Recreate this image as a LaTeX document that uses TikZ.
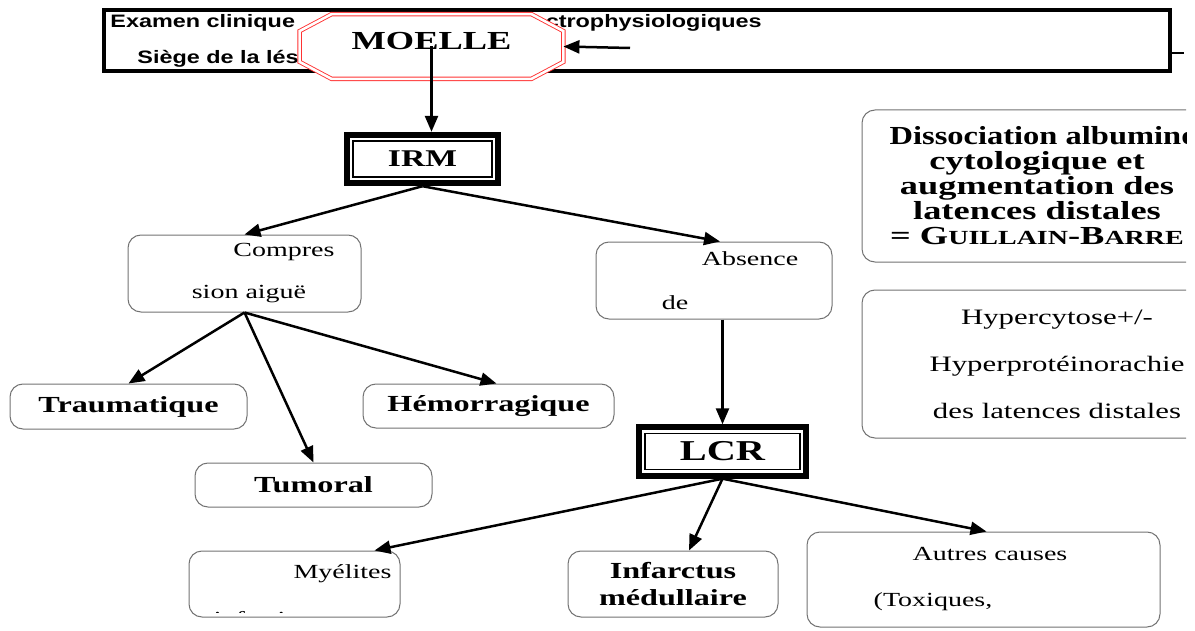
\documentclass[tikz,border=0pt]{standalone}
\usepackage{fontspec}
\setmainfont{Liberation Serif}[FakeStretch=1.4]
\newfontfamily\narrowserif{Liberation Serif}[FakeStretch=1.25]
\newfontfamily\widesans{Liberation Sans}[FakeStretch=1.3]
\usetikzlibrary{fit,arrows.meta}

\begin{document}
\begin{tikzpicture}[x=0.5pt,y=-0.5pt,
    rbox/.style={draw=black!55,line width=0.5pt,rounded corners=6.5pt,fill=white,align=center,inner sep=0pt},
    bbox/.style={rbox,font=\fontsize{11.5}{13.5}\selectfont\bfseries},
    tbox/.style={rbox,font=\fontsize{10}{21}\selectfont},
    innerframe/.style={draw,line width=0.75pt,outer sep=0pt,inner sep=0pt,minimum height=18pt,font=\bfseries},
    outerframe/.style={draw,line width=3pt,inner sep=3.1pt},
    toptxt/.style={inner sep=0pt,font=\widesans\fontsize{9}{11}\selectfont\bfseries},
    octnode/.style={minimum width=131.5pt,minimum height=32pt,inner sep=0pt},
    octline/.style={draw=red!80,line width=0.45pt,double=white,double distance=1.3pt,fill=white},
    arr/.style={line width=1.25pt,->,>={Triangle[length=8pt,width=6.5pt]}}]

      \useasboundingbox (0,0) rectangle (1195,631);
      \clip (0,0) rectangle (1186,631);

      %% top box
      \node[draw,line width=2pt,minimum width=533pt,minimum height=30.5pt] (exam) at (637,40.5) {};
      \node[toptxt,anchor=base west] (examtxt) at (110,28) {Examen clinique};
      \node[toptxt,anchor=base east] (electtxt) at (762,28) {électrophysiologiques};
      \node[toptxt,anchor=base west] (siegetxt) at (137,64) {Siège de la lésion};
      \coordinate (stubR) at (1184,53);
      \draw[line width=1pt] (exam.east |- stubR) -- (stubR);

      %% MOELLE
      \node[octnode] (moelle) at (431.5,46.5) {};
      \draw[octline] ([xshift=16pt]moelle.north west) -- ([xshift=-16pt]moelle.north east)
        -- ([yshift=-8.5pt]moelle.north east) -- ([yshift=8.5pt]moelle.south east)
        -- ([xshift=-16pt]moelle.south east) -- ([xshift=16pt]moelle.south west)
        -- ([yshift=8.5pt]moelle.south west) -- ([yshift=-8.5pt]moelle.north west) -- cycle;
      \node[font=\fontsize{13}{15}\selectfont\bfseries] (moellelbl) at ([yshift=2.5pt]moelle.center) {MOELLE};
      \coordinate (srcR) at (630,48);

      %% IRM and LCR
      \node[innerframe,minimum width=69.5pt,font=\fontsize{12}{14}\selectfont\bfseries] (irm) at (422.5,159) {IRM};
      \node[outerframe,fit=(irm)] (irmF) {};
      \node[innerframe,minimum width=77.5pt,font=\fontsize{14.4}{16}\selectfont\bfseries] (lcr) at (722.5,451.5) {LCR};
      \node[outerframe,fit=(lcr)] (lcrF) {};

      %% boxes
      \node[tbox,minimum width=116.5pt,minimum height=38.5pt] (comp) at (244.5,273.5) {\hspace*{39.5pt}Compres\\\hspace*{4.5pt}sion aiguë};
      \node[tbox,minimum width=118pt,minimum height=38.5pt,font=\fontsize{10}{22}\selectfont] (abs) at (714,280.5) {\hspace*{36pt}Absence\\de\hspace*{39pt}};
      \node[bbox,minimum width=118.5pt,minimum height=22.5pt] (traum) at (128.5,406.5) {Traumatique};
      \node[bbox,minimum width=125.5pt,minimum height=22pt] (hemo) at (488.5,406) {Hémorragique};
      \node[bbox,minimum width=118.5pt,minimum height=22pt] (tumo) at (313.5,485) {Tumoral};
      \node[tbox,minimum width=105.5pt,minimum height=33pt,text height=7pt,text depth=12.5pt] (mye) at (294.5,584) {\hspace*{48pt}Myélites};
      \begin{scope}
        \clip ([yshift=2.5pt]mye.south west) rectangle ([yshift=8.5pt]mye.south east);
        \node[inner sep=0pt,anchor=base,font=\fontsize{10}{12}\selectfont] (myeinf) at (280,625) {infectieuses};
      \end{scope}
      \node[bbox,minimum width=105pt,minimum height=33pt] (inf) at (673,584) {Infarctus\\médullaire};
      \node[tbox,minimum width=176.5pt,minimum height=47.5pt,font=\fontsize{10}{23}\selectfont] (autres) at (983.5,579.5) {\hspace*{6.5pt}Autres causes\\(Toxiques,\hspace*{50.5pt}};
      \node[rbox,minimum width=175pt,minimum height=76pt,font=\fontsize{13}{12.5}\selectfont\bfseries] (diss) at (1037,186)
        {\hspace*{12pt}{\narrowserif\bfseries Dissociation albumino-}\\cytologique et\\augmentation des\\latences distales\\= G{\fontsize{10}{12.5}\selectfont UILLAIN}-B{\fontsize{10}{12.5}\selectfont ARRE}};
      \node[rbox,minimum width=195pt,minimum height=74pt,font=\fontsize{11}{23.5}\selectfont] (hyp) at (1057,364)
        {Hypercytose+/-\\Hyperprotéinorachie\\des latences distales};

      %% arrows
      % MOELLE
      \draw[arr] (srcR) -- (moelle.east);
      \draw[arr] (moelle.center) -- (moelle.center |- irmF.north);

      % IRM -> results
      \draw[arr] (irmF.south) -- (comp.north);
      \draw[arr] (irmF.south) -- ([xshift=3pt]abs.north);

      % compression
      \draw[arr] (comp.south) -- (traum.north);
      \draw[arr] (comp.south) -- (tumo.north);
      \draw[arr] (comp.south) -- ([xshift=4pt]hemo.north);

      % absence -> LCR
      \draw[arr] (abs.south -| lcrF.north) -- (lcrF.north);

      % LCR -> causes
      \draw[arr] (lcrF.south) -- ([xshift=40pt]mye.north);
      \draw[arr] (lcrF.south) -- ([xshift=8pt]inf.north);
      \draw[arr] (lcrF.south) -- ([xshift=1.5pt]autres.north);

   \end{tikzpicture}
\end{document}
